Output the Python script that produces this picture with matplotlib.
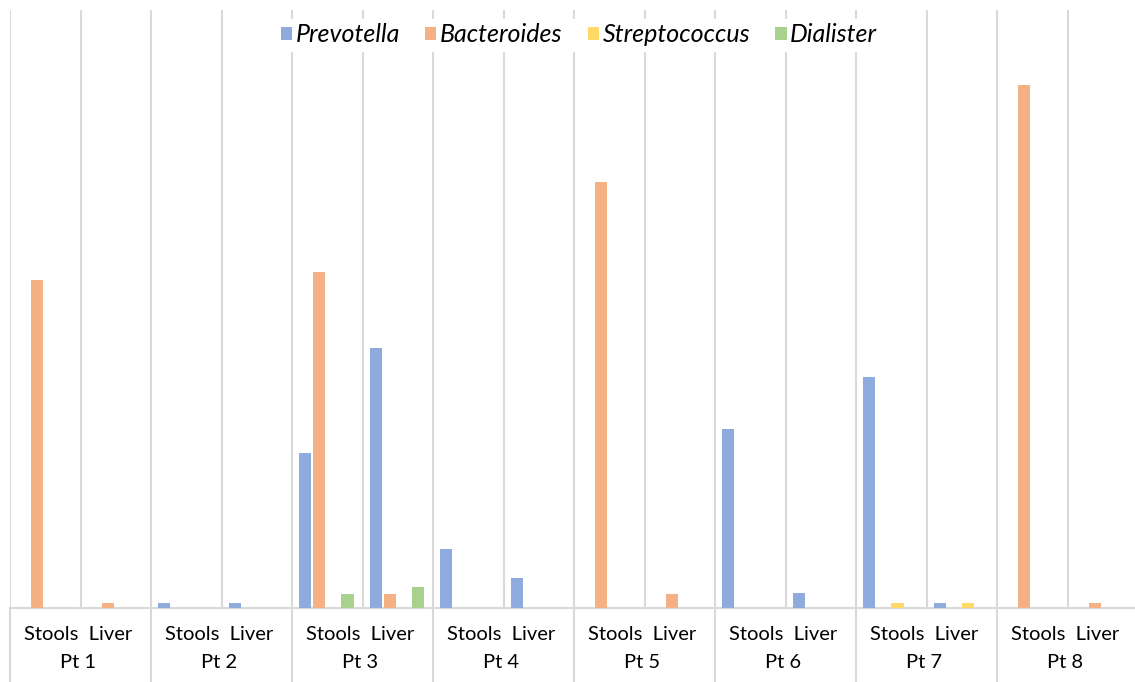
import matplotlib
matplotlib.use("Agg")
import matplotlib.pyplot as plt
from matplotlib.patches import Patch
from matplotlib.lines import Line2D
from matplotlib.transforms import blended_transform_factory

# ---- data ----
patients = ["Pt 1", "Pt 2", "Pt 3", "Pt 4", "Pt 5", "Pt 6", "Pt 7", "Pt 8"]
samples = ["Stools", "Liver"]
series_names = ["Prevotella", "Bacteroides", "Streptococcus", "Dialister"]
# order: Pt1 Stools, Pt1 Liver, Pt2 Stools, Pt2 Liver, ...
prevotella    = [0, 0, 1, 1, 31.0, 52.0, 11.8, 6.0, 0, 0, 35.8, 3.0, 46.2, 1, 0, 0]
bacteroides   = [65.6, 1, 0, 0, 67.2, 2.9, 0, 0, 85.2, 2.8, 0, 0, 0, 0, 104.6, 1]
streptococcus = [0, 0, 0, 0, 0, 0, 0, 0, 0, 0, 0, 0, 1, 1, 0, 0]
dialister     = [0, 0, 0, 0, 2.9, 4.3, 0, 0, 0, 0, 0, 0, 0, 0, 0, 0]
colors = ["#8FAADC", "#F4B183", "#FFD966", "#A9D18E"]

W, H = 1135, 682
fig = plt.figure(figsize=(W / 100, H / 100), dpi=100)
ax_left, ax_right, ax_top, ax_bottom = 10, 1138, 10, 608
ax = fig.add_axes([ax_left / W, (H - ax_bottom) / H,
                   (ax_right - ax_left) / W, (ax_bottom - ax_top) / H])

n = len(patients) * len(samples)
series = [prevotella, bacteroides, streptococcus, dialister]
step, width, first = 0.2, 0.175, 0.1
for k, (vals, col) in enumerate(zip(series, colors)):
    xs = [i + first + step * k for i in range(n)]
    ax.bar(xs, vals, width=width, align="edge", color=col, zorder=3,
           label=series_names[k])

ax.set_xlim(0, n)
ax.set_ylim(0, 119.6)
grid_col = "#D9D9D9"
for i in range(n + 1):
    ax.axvline(i, color=grid_col, lw=1.5, zorder=1)
for s in ["top", "left", "right"]:
    ax.spines[s].set_visible(False)
ax.spines["bottom"].set_color(grid_col)
ax.spines["bottom"].set_linewidth(1.5)
ax.set_xticks([])
ax.set_yticks([])

# category label box below the axis
tr = blended_transform_factory(ax.transData, fig.transFigure)
y0 = (H - ax_bottom) / H
for g in range(len(patients) + 1):
    fig.add_artist(Line2D([2 * g, 2 * g], [0, y0], transform=tr,
                          color=grid_col, lw=1.5, clip_on=False))
font = "Lato"
for g, p in enumerate(patients):
    ax.text(2 * g + 0.97, 1 - 634 / H, "  ".join(samples), transform=tr,
            ha="center", va="center", fontsize=14.5, family=font)
    ax.text(2 * g + 0.97, 1 - 663 / H, p, transform=tr,
            ha="center", va="center", fontsize=14.5, family=font)

handles = [Patch(facecolor=c, edgecolor="none") for c in colors]
leg = ax.legend(handles, series_names, loc="center",
                bbox_to_anchor=(579 / W, 1 - 35 / H),
                bbox_transform=fig.transFigure, ncol=4, frameon=True,
                prop={"family": font, "style": "italic", "size": 18},
                handlelength=0.45, handleheight=0.45, handletextpad=0.15,
                columnspacing=1.0, borderpad=0.2)
leg.get_frame().set_facecolor("white")
leg.get_frame().set_edgecolor("none")
leg.get_frame().set_alpha(1)
leg.set_zorder(5)

fig.savefig("out.png", dpi=100)
